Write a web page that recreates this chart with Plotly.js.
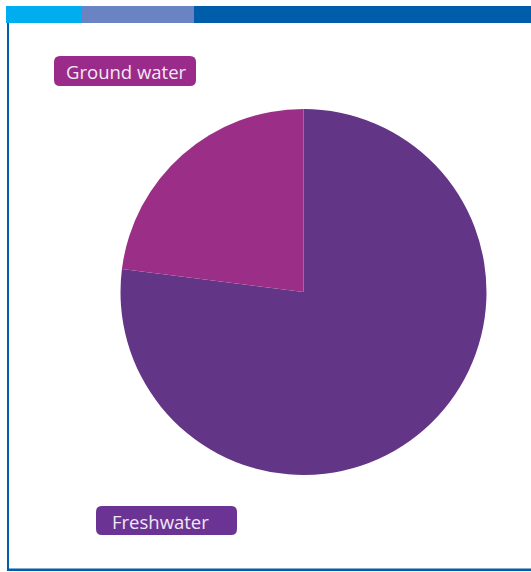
<!DOCTYPE html>
<html>
<head>
<meta charset="utf-8">
<script src="https://cdn.plot.ly/plotly-3.0.1.min.js"></script>
<style>html,body{margin:0;padding:0;background:#fff;}#chart{width:531px;height:572px;}</style>
</head>
<body>
<div id="chart"></div>
<script>
const categories = ["Freshwater", "Ground water"];
const values = [77, 23];
const sliceColors = ["#633586", "#9B2F87"];
const labelBoxColors = ["#6B3394", "#9A2B8A"];

const W = 531, H = 572;
const px = x => x / W;
const py = y => 1 - y / H;

function roundRect(x0, y0, x1, y1, r) {
  const X0 = px(x0), X1 = px(x1), Y0 = py(y0), Y1 = py(y1);
  const rx = r / W, ry = r / H;
  return `M ${X0+rx},${Y0} L ${X1-rx},${Y0} Q ${X1},${Y0} ${X1},${Y0-ry} L ${X1},${Y1+ry} Q ${X1},${Y1} ${X1-rx},${Y1} L ${X0+rx},${Y1} Q ${X0},${Y1} ${X0},${Y1+ry} L ${X0},${Y0-ry} Q ${X0},${Y0} ${X0+rx},${Y0} Z`;
}

const trace = {
  type: "pie",
  labels: categories,
  values: values,
  sort: false,
  direction: "clockwise",
  rotation: 0,
  marker: { colors: sliceColors, line: { width: 0 } },
  textinfo: "none",
  hoverinfo: "label+percent",
  showlegend: false,
  domain: { x: [px(120), px(487)], y: [py(475), py(109)] }
};

const shapes = [
  { type: "rect", xref: "paper", yref: "paper", x0: px(6), x1: px(82), y0: py(23), y1: py(6), fillcolor: "#00AEEF", line: { width: 0 } },
  { type: "rect", xref: "paper", yref: "paper", x0: px(82), x1: px(194), y0: py(23), y1: py(6), fillcolor: "#6A83C3", line: { width: 0 } },
  { type: "rect", xref: "paper", yref: "paper", x0: px(194), x1: px(531), y0: py(23), y1: py(6), fillcolor: "#005DAA", line: { width: 0 } },
  { type: "rect", xref: "paper", yref: "paper", x0: px(7), x1: px(9), y0: py(571), y1: py(23), fillcolor: "#005DAA", line: { width: 0 } },
  { type: "rect", xref: "paper", yref: "paper", x0: px(7), x1: px(531), y0: py(571), y1: py(568.5), fillcolor: "#005DAA", line: { width: 0 } },
  { type: "path", xref: "paper", yref: "paper", path: roundRect(54, 56, 196, 86, 6), fillcolor: labelBoxColors[1], line: { width: 0 } },
  { type: "path", xref: "paper", yref: "paper", path: roundRect(96, 506, 237, 535, 6), fillcolor: labelBoxColors[0], line: { width: 0 } }
];

const annotations = [
  { xref: "paper", yref: "paper", x: px(126), y: py(71), text: categories[1], showarrow: false, xanchor: "center", yanchor: "middle", font: { family: "Open Sans, sans-serif", size: 18.5, color: "#F4E8F2" } },
  { xref: "paper", yref: "paper", x: px(160), y: py(521), text: categories[0], showarrow: false, xanchor: "center", yanchor: "middle", font: { family: "Open Sans, sans-serif", size: 18.5, color: "#EFE8F4" } }
];

const layout = {
  width: W, height: H,
  margin: { l: 0, r: 0, t: 0, b: 0 },
  paper_bgcolor: "#ffffff",
  plot_bgcolor: "#ffffff",
  shapes: shapes,
  annotations: annotations,
  showlegend: false
};

Plotly.newPlot("chart", [trace], layout, { displayModeBar: false, staticPlot: true });
</script>
</body>
</html>
